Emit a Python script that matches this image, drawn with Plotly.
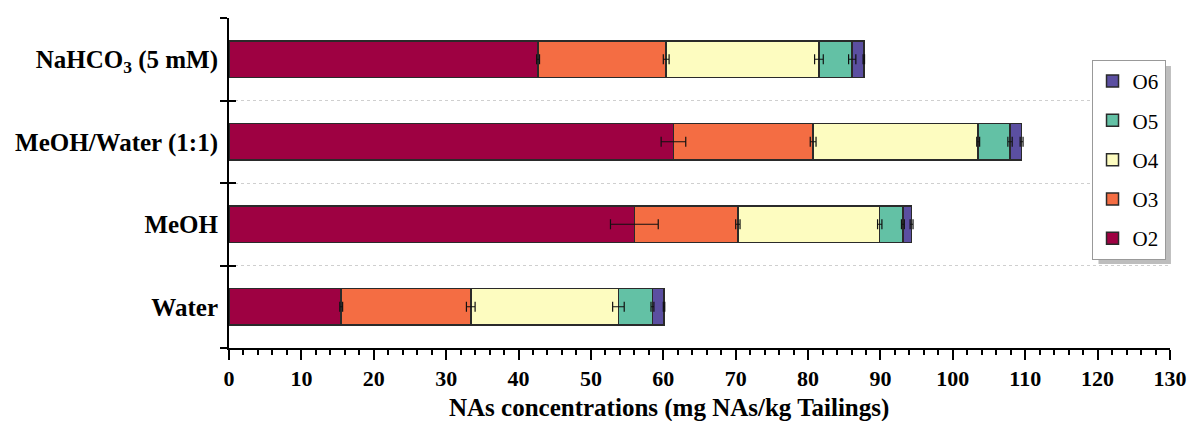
import plotly.graph_objects as go
import numpy as np

categories = ["Water", "MeOH", "MeOH/Water (1:1)", "NaHCO<sub>3</sub> (5 mM)"]
series_names = ["O2", "O3", "O4", "O5", "O6"]
O2 = [15.5, 56.0, 61.4, 42.7]
O3 = [17.9, 14.3, 19.3, 17.7]
O4 = [20.4, 19.6, 22.8, 21.1]
O5 = [4.7, 3.2, 4.4, 4.6]
O6 = [1.6, 1.2, 1.6, 1.6]
O2_err = [0.2, 3.3, 1.7, 0.2]
O3_err = [0.6, 0.3, 0.4, 0.4]
O4_err = [0.8, 0.3, 0.2, 0.6]
O5_err = [0.2, 0.2, 0.3, 0.5]
O6_err = [0.1, 0.2, 0.2, 0.1]
x_ticks = list(range(0, 131, 10))

colors = ["#9E0142", "#F46D43", "#FDFCC0", "#63C1A5", "#5B4FA1"]
values = [O2, O3, O4, O5, O6]
errors = [O2_err, O3_err, O4_err, O5_err, O6_err]
ypos = list(range(len(categories)))
cumulative = np.cumsum(np.array(values), axis=0)

fig = go.Figure()
n = len(series_names)
for i, (name, v, c) in enumerate(zip(series_names, values, colors)):
    fig.add_trace(go.Bar(
        y=ypos, x=v, name=name, orientation="h",
        marker=dict(color=c, line=dict(color="#2a2a2a", width=1.5)),
        width=0.44, legendrank=n - i, legendgroup=name,
    ))

# error bars drawn on top of the stacked segments, at each segment end
for name, cum, e in zip(series_names, cumulative, errors):
    fig.add_trace(go.Scatter(
        y=ypos, x=cum, mode="markers", marker=dict(size=0.1, opacity=0),
        error_x=dict(type="data", array=e, visible=True, color="#111111",
                     thickness=1.2, width=5),
        showlegend=False, hoverinfo="skip",
    ))

fig.add_trace(go.Scatter(x=[None], y=[None], yaxis="y2", showlegend=False,
                         hoverinfo="skip"))

font_fam = "Liberation Serif, Times New Roman, serif"
bounds = [-0.5, 0.5, 1.5, 2.5, 3.5]

fig.update_layout(
    barmode="stack",
    width=1199, height=421,
    margin=dict(l=229, r=23, t=18, b=73),
    plot_bgcolor="white", paper_bgcolor="white",
    font=dict(family=font_fam, color="black"),
    xaxis=dict(
        range=[0, 130], tickvals=x_ticks, ticks="outside", ticklen=10,
        tickwidth=2, tickcolor="black", showline=True, linewidth=2,
        linecolor="black", showgrid=False, zeroline=False,
        tickfont=dict(size=22, family=font_fam, weight="bold"),
        minor=dict(dtick=2, tick0=0, ticks="outside", ticklen=5,
                   tickwidth=1.5, tickcolor="black", showgrid=False),
    ),
    yaxis=dict(
        range=[-0.5, 3.5], tickvals=ypos, ticktext=categories, ticks="",
        showline=True, linewidth=2, linecolor="black", showgrid=False,
        zeroline=False, ticklabelstandoff=4,
        tickfont=dict(size=25, family=font_fam, weight="bold"),
        minor=dict(tickmode="array", tickvals=bounds, ticks="outside",
                   ticklen=7, tickwidth=2, tickcolor="black",
                   showgrid=True, gridcolor="#cfcfcf", griddash="dot",
                   gridwidth=1),
    ),
    yaxis2=dict(
        overlaying="y", side="left", range=[-0.5, 3.5], tickvals=bounds,
        ticks="inside", ticklen=7, tickwidth=2, tickcolor="black",
        showticklabels=False, showgrid=False, showline=False, zeroline=False,
    ),
    legend=dict(
        x=0.9166, y=0.873, xanchor="left", yanchor="top",
        traceorder="grouped", tracegroupgap=9,
        bgcolor="white", bordercolor="#999999", borderwidth=1,
        font=dict(size=21, family=font_fam),
    ),
    annotations=[dict(
        text="NAs concentrations (mg NAs/kg Tailings)", showarrow=False,
        xref="paper", yref="paper", x=0.468, y=-0.182,
        xanchor="center", yanchor="middle",
        font=dict(size=25, family=font_fam, weight="bold", color="black"),
    )],
    shapes=[dict(type="rect", xref="paper", yref="paper",
                 x0=0.924, x1=1.001, y0=0.2545, y1=0.8545,
                 fillcolor="#bdbdbd", line=dict(width=0), layer="above")],
)

fig.write_html("out.html")
